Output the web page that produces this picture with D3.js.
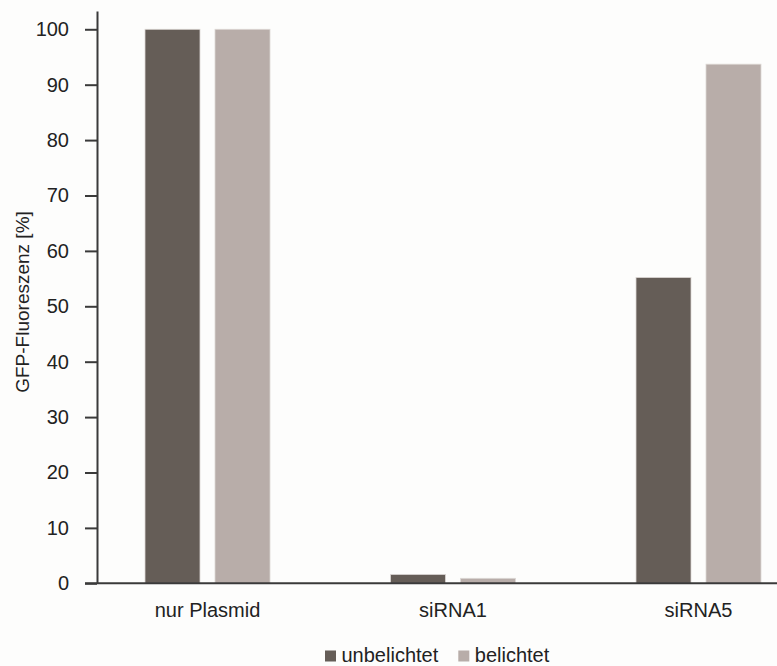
<!DOCTYPE html>
<html><head><meta charset="utf-8">
<script src="https://cdn.jsdelivr.net/npm/d3@7"></script>
<style>
html,body{margin:0;padding:0;background:#fdfdfc;}
svg{display:block;font-family:"Liberation Sans",Arial,sans-serif;}
</style></head>
<body><svg id="c" width="777" height="666"></svg>
<script>
const categories = ["nur Plasmid", "siRNA1", "siRNA5"];
const seriesNames = ["unbelichtet", "belichtet"];
const unbelichtet = [100, 1.6, 55.2];
const belichtet = [100, 0.9, 93.7];
const yTicks = [0,10,20,30,40,50,60,70,80,90,100];
const colors = ["#655d57", "#b8ada9"];

const svg = d3.select("#c");
const W = 777, H = 666;
svg.append("rect").attr("width",W).attr("height",H).attr("fill","#fdfdfc");

const y0 = 583.3;
const y = d3.scaleLinear().domain([0,103.3]).range([y0,11]);
const x = d3.scaleBand().domain(categories).range([84.75, 821.25]).paddingInner(0).paddingOuter(0);
const xs = d3.scaleBand().domain(seriesNames).range([-62.5, 62.5]).paddingInner(2 - 125/70).paddingOuter(0);

const data = categories.map((c,i)=>({cat:c, vals:[unbelichtet[i], belichtet[i]]}));

// bars
const g = svg.append("g");
data.forEach(d=>{
  const cx = x(d.cat) + x.bandwidth()/2;
  seriesNames.forEach((s,j)=>{
    g.append("rect")
      .attr("x", cx + xs(s))
      .attr("width", xs.bandwidth())
      .attr("y", y(d.vals[j]))
      .attr("height", y0 - y(d.vals[j]))
      .attr("fill", colors[j])
      .attr("stroke", "#ddd8d5").attr("stroke-width", 0.8);
  });
});

// y axis
const yAxis = d3.axisLeft(y).tickValues(yTicks).tickSize(12).tickSizeOuter(0).tickPadding(16);
const ya = svg.append("g").attr("transform","translate(97,0)").call(yAxis);
ya.select(".domain").attr("stroke","#3a3a3a").attr("stroke-width",2);
ya.selectAll(".tick line").attr("stroke","#3a3a3a").attr("stroke-width",2);
ya.selectAll(".tick text").attr("font-size",20).attr("fill","#222")
  .attr("font-family","'Liberation Sans',Arial,sans-serif");

// x axis line
svg.append("line").attr("x1",85).attr("x2",777).attr("y1",y0).attr("y2",y0)
  .attr("stroke","#3a3a3a").attr("stroke-width",2);

// category labels
const xAxis = d3.axisBottom(x).tickSize(0).tickPadding(0);
const xa = svg.append("g").attr("transform",`translate(0,${y0})`).call(xAxis);
xa.select(".domain").remove();
xa.selectAll(".tick text").attr("font-size",20).attr("fill","#222").attr("dy",null).attr("y",34)
  .attr("font-family","'Liberation Sans',Arial,sans-serif");

// y title
svg.append("text").attr("transform","translate(29,302) rotate(-90)")
  .attr("text-anchor","middle").attr("font-size",19).attr("fill","#222")
  .text("GFP-Fluoreszenz [%]");

// legend
const legX = [325, 458.3];
seriesNames.forEach((s,j)=>{
  svg.append("rect").attr("x",legX[j]).attr("y",650.5).attr("width",11).attr("height",11).attr("fill",colors[j]);
  svg.append("text").attr("x",legX[j]+16.5).attr("y",661.7).attr("font-size",20).attr("fill","#222").text(s);
});
</script></body></html>
